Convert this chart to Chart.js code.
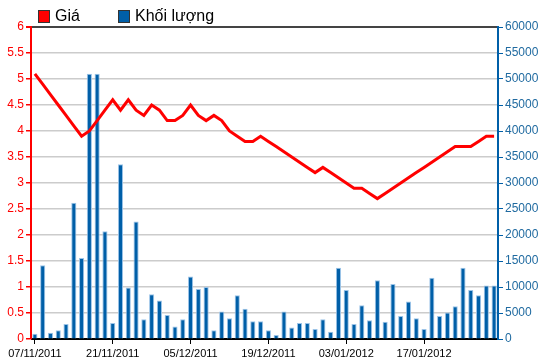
<!DOCTYPE html>
<html lang="vi">
<head>
  <meta charset="UTF-8">
  <title>Giá và khối lượng</title>
  <script src="https://cdn.jsdelivr.net/npm/chart.js@4.4.1/dist/chart.umd.min.js"></script>
  <style>
    html, body { margin: 0; padding: 0; background: #fff; }
    #wrap { width: 550px; height: 364px; }
  </style>
</head>
<body>
  <div id="wrap"><canvas id="chart" width="550" height="364"></canvas></div>
  <script>
    // trading days (07/11/2011 .. early 02/2012)
    const days = [
      '07/11/2011','08/11/2011','09/11/2011','10/11/2011','11/11/2011',
      '14/11/2011','15/11/2011','16/11/2011','17/11/2011','18/11/2011',
      '21/11/2011','22/11/2011','23/11/2011','24/11/2011','25/11/2011',
      '28/11/2011','29/11/2011','30/11/2011','01/12/2011','02/12/2011',
      '05/12/2011','06/12/2011','07/12/2011','08/12/2011','09/12/2011',
      '12/12/2011','13/12/2011','14/12/2011','15/12/2011','16/12/2011',
      '19/12/2011','20/12/2011','21/12/2011','22/12/2011','23/12/2011',
      '26/12/2011','27/12/2011','28/12/2011','29/12/2011','30/12/2011',
      '03/01/2012','04/01/2012','05/01/2012','06/01/2012','09/01/2012',
      '10/01/2012','11/01/2012','12/01/2012','13/01/2012','16/01/2012',
      '17/01/2012','18/01/2012','19/01/2012','20/01/2012','30/01/2012',
      '31/01/2012','01/02/2012','02/02/2012','03/02/2012','06/02/2012'
    ];

    const price = [
      5.1, 4.9, 4.7, 4.5, 4.3, 4.1, 3.9, 4.0, 4.2, 4.4,
      4.6, 4.4, 4.6, 4.4, 4.3, 4.5, 4.4, 4.2, 4.2, 4.3,
      4.5, 4.3, 4.2, 4.3, 4.2, 4.0, 3.9, 3.8, 3.8, 3.9,
      3.8, 3.7, 3.6, 3.5, 3.4, 3.3, 3.2, 3.3, 3.2, 3.1,
      3.0, 2.9, 2.9, 2.8, 2.7, 2.8, 2.9, 3.0, 3.1, 3.2,
      3.3, 3.4, 3.5, 3.6, 3.7, 3.7, 3.7, 3.8, 3.9, 3.9
    ];

    const volume = [
      1000, 14200, 1200, 1700, 2900, 26200, 15600, 51000, 51000, 20700,
      3100, 33600, 9900, 22600, 3800, 8600, 7400, 4600, 2400, 3800,
      12000, 9600, 10000, 1700, 5300, 4000, 8400, 5800, 3400, 3400,
      1700, 770, 5300, 2200, 3100, 3100, 1900, 3800, 1400, 13700,
      9400, 2900, 6500, 3600, 11300, 3300, 10600, 4400, 7200, 4000,
      1900, 11800, 4400, 5100, 6300, 13700, 9400, 8400, 10300, 10300
    ];

    const labelEvery = 10;
    const RED = '#ff0000';
    const BLUE = '#005fa8';
    const BLUE_TXT = '#1f6aa0';
    const FONT = "'Liberation Sans', Arial, sans-serif";

    // simple legend drawn at the top left (built-in one adds too much height)
    const topLegend = {
      id: 'topLegend',
      afterDraw(chart) {
        const c = chart.ctx;
        const startX = [38, 118];
        c.save();
        c.font = '16px ' + FONT;
        c.textBaseline = 'middle';
        chart.data.datasets.forEach((ds, i) => {
          const x = startX[i];
          c.fillStyle = i === 0 ? RED : BLUE;
          c.fillRect(x, 10, 12, 13);
          c.strokeStyle = '#333';
          c.lineWidth = 1;
          c.strokeRect(x + 0.5, 10.5, 11, 12);
          c.fillStyle = '#000';
          c.fillText(ds.label, x + 17, 17);
        });
        c.restore();
      }
    };

    const ctx = document.getElementById('chart').getContext('2d');
    const chart = new Chart(ctx, {
      type: 'bar',
      data: {
        labels: days,
        datasets: [{
          type: 'line',
          label: 'Giá',
          data: price,
          yAxisID: 'y',
          borderColor: RED,
          backgroundColor: RED,
          borderWidth: 3,
          borderJoinStyle: 'miter',
          pointRadius: 0,
          tension: 0,
          order: 0
        }, {
          type: 'bar',
          label: 'Khối lượng',
          data: volume,
          yAxisID: 'y1',
          backgroundColor: BLUE,
          borderColor: '#9cc4e8',
          borderWidth: { top: 1, left: 1, right: 1, bottom: 0 },
          borderSkipped: 'bottom',
          barPercentage: 0.66,
          categoryPercentage: 1.0,
          order: 1
        }]
      },
      plugins: [topLegend],
      options: {
        responsive: false,
        animation: false,
        layout: { padding: { top: 27 } },
        plugins: {
          tooltip: { enabled: false },
          legend: { display: false }
        },
        scales: {
          x: {
            offset: true,
            afterFit: s => { s.height = 25; },
            grid: {
              offset: false,
              drawOnChartArea: false,
              drawTicks: true,
              tickLength: 5,
              color: c => (c.index % labelEvery === 0 ? '#000' : 'rgba(0,0,0,0)')
            },
            border: { color: '#000', width: 1 },
            ticks: {
              autoSkip: false,
              maxRotation: 0,
              minRotation: 0,
              padding: 3,
              color: '#000',
              font: { family: FONT, size: 11 },
              callback: function (v, i) { return i % labelEvery === 0 ? days[i] : ''; }
            }
          },
          y: {
            position: 'left',
            min: 0,
            max: 6,
            afterFit: s => { s.width = 31; },
            ticks: {
              stepSize: 0.5,
              color: RED,
              padding: 2,
              font: { family: FONT, size: 12 },
              callback: v => String(v)
            },
            grid: {
              color: c => (c.tick.value === 6 ? '#444' : (c.tick.value === 0 ? '#000' : '#cccccc')),
              lineWidth: c => (c.tick.value === 6 ? 2 : 1.5),
              tickColor: RED,
              tickLength: 5
            },
            border: { color: RED, width: 2 }
          },
          y1: {
            position: 'right',
            min: 0,
            max: 60000,
            afterFit: s => { s.width = 52; },
            ticks: {
              stepSize: 5000,
              color: BLUE_TXT,
              padding: 2,
              font: { family: FONT, size: 12 },
              callback: v => String(v)
            },
            grid: {
              drawOnChartArea: false,
              tickColor: BLUE,
              tickLength: 5
            },
            border: { color: BLUE, width: 2 }
          }
        }
      }
    });
  </script>
</body>
</html>
